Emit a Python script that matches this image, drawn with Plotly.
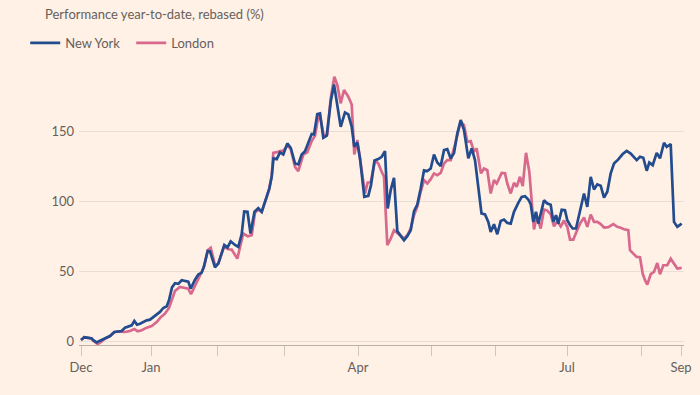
import plotly.graph_objects as go

# time index (trading-session position, Dec start = 0)
ny_t = [0, 3.3, 7.3, 10.7, 12, 15.7, 19, 24, 29, 33.3, 37.3, 40.7, 44, 47.3, 50.7, 53.3, 56, 59, 62.3, 65.7,
        69, 72.3, 75.7, 79, 82.3, 85.7, 88, 91, 94, 97.3, 100.7, 104, 107.3, 109.7, 114, 117.3, 120.7, 123, 126.7, 129,
        134, 137.3, 143.3, 146.5, 149.7, 154, 157.3, 160.7, 163.2, 166.5, 169.5, 173.5, 177.3, 180.7, 185.7, 188.3, 190.7, 192.5, 195.7, 199,
        202.3, 206.3, 209.7, 214, 217.3, 220.7, 224, 227.3, 230.7, 233, 236.3, 239, 242.3, 245.7, 249.7, 253, 256.3, 259.7, 264, 267.3,
        270.7, 273.3, 276.3, 279, 283.3, 287.3, 290, 293.5, 297.3, 300.7, 304, 306.7, 309.7, 313, 316.3, 319.7, 323, 326.3, 329.7, 333,
        336.3, 339.7, 343, 346.3, 349.7, 353, 356.3, 359.7, 363, 366.3, 369.7, 373, 376.3, 379.7, 383, 387.3, 390.7, 394, 397, 400.5,
        404, 407.3, 409.7, 413, 416.3, 419.7, 423, 426.3, 429.7, 433, 437.3, 440.7, 444, 447.3, 449.7, 452.3, 455, 457.3, 460.7, 463,
        466.3, 469.7, 472.3, 475, 477.3, 480.7, 484, 486.3, 489, 491.7, 495, 499, 503, 506.3, 509.7, 513, 516.3, 519.7, 523, 526.3,
        529.7, 533, 537.3, 541.7, 545.7, 549.7, 553, 555.7, 559, 562.3, 565.7, 568.3, 571.7, 575.7, 579, 583, 585.7, 589.7, 593, 596.3,
        600.7]
ny_val = [1, 2.9, 2.5, 2, 1, -0.7, 0.5, 2.1, 3.8, 6.7, 7.1, 7.4, 9.8, 10.7, 11.4, 14.5, 11.9, 12.6, 13.8, 15,
          15.5, 17.4, 19, 21, 23.8, 25, 29.3, 38.5, 41.5, 41, 43.6, 43, 42.6, 37.6, 44, 47.6, 49, 53.6, 64.5, 64.2,
          52.8, 55.5, 68.7, 67, 71.4, 68.8, 67.4, 76.5, 92.6, 92.4, 76.9, 92.5, 95, 92.4, 103, 109, 117.4, 130.5, 130, 134.8,
          133.3, 141.2, 138.1, 126.9, 126.2, 133.3, 135.7, 142.4, 147.9, 147.6, 162.1, 162.6, 145.2, 146.7, 170.9, 183.3, 168.6, 153.1, 163.3, 161.9,
          153.1, 138.8, 141.9, 130.5, 103.1, 103.8, 111.4, 129, 130, 131.7, 135.7, 94.8, 107.9, 116.7, 78.6, 75.7, 72.1, 75, 79.3, 92.9,
          97.6, 109, 121.9, 121.4, 123.3, 133.3, 127.6, 125, 136.4, 137.1, 130.5, 134.3, 148.3, 157.9, 150.7, 130.5, 137.6, 129.3, 112, 91.2,
          90.5, 85.2, 78.1, 83.6, 76.4, 85.9, 86.9, 84.5, 84, 92.4, 98.8, 103.1, 103.6, 101.2, 97.9, 85.2, 92.4, 84, 93.8, 100.7,
          98.3, 97.5, 85.2, 90, 84, 93.8, 93.5, 86.4, 83, 80.5, 80.5, 93, 105.5, 95.9, 117.4, 108.4, 112, 111, 102.6, 106.7,
          119.8, 126.9, 129.8, 133.6, 135.9, 134, 131.7, 129.3, 131.7, 131, 121.7, 127.6, 125.7, 134.5, 130.5, 141.7, 138.8, 140.7, 85.2, 81.7,
          84]

ldn_t = [0, 3.3, 7.3, 10.7, 12, 16.7, 20.7, 24, 29, 33.3, 37.3, 40.7, 44, 49, 53.3, 56.7, 60.7, 65.7, 70.7, 75.7,
         80, 84, 88, 91.3, 94, 99, 104, 107.3, 110, 114, 119, 123, 126.7, 129.7, 134, 137.3, 143, 147.3, 150.7, 156.3,
         162.3, 166.7, 170.7, 174, 177.3, 180.7, 185.7, 188.3, 190.7, 192.3, 197.3, 199, 202.3, 206.3, 209.7, 214, 217.3, 222.3, 226.3, 230.7,
         234, 237.3, 239, 243, 246.3, 249.7, 253.3, 256.3, 259.7, 263, 267.3, 270.7, 273.3, 276.3, 279, 284, 286.7, 289.7, 294, 297.3,
         300.7, 303, 306.3, 309.7, 313, 316.3, 319.7, 323, 326.3, 329.7, 333, 336.3, 339.7, 343, 346.3, 349.7, 353, 356.3, 359.7, 363,
         366.3, 369.7, 373, 376.3, 379.7, 383, 386.3, 389.7, 393, 395.7, 400, 403, 406.3, 409.7, 413, 415.7, 420.7, 424, 426.3, 429.7,
         433, 435.7, 439, 441.7, 445, 448.3, 450.7, 453, 455.7, 459.7, 463, 466.3, 469.7, 473, 476.3, 479.7, 483, 486.3, 489, 492.3,
         495.7, 499, 503, 506.3, 509.7, 513, 516.3, 519.7, 523, 527.3, 532.3, 536.3, 539.7, 543, 547.3, 549, 552.3, 555.7, 559, 561.7,
         564, 566.3, 569.7, 573, 576.3, 579, 582.3, 586.3, 589.7, 593, 596.3, 600.7]
ldn_val = [1, 2.9, 2.5, 2, 0.5, -2, 0, 2, 3.8, 6.5, 7, 7, 6.7, 7.4, 8.8, 7.1, 7.9, 9.8, 11, 13.8,
           17.4, 19.8, 23.8, 30.5, 36, 38.8, 38.3, 37.5, 33.6, 39.5, 47.1, 53, 65, 66.7, 54.5, 55.5, 67.4, 65.7, 65.5, 59,
           76.9, 75, 75.7, 91.8, 94, 92.4, 103, 109, 118, 134.5, 135.2, 135.7, 136, 139.5, 137.5, 124.5, 121.4, 133.3, 134.8, 142.9,
           146.7, 160.2, 161, 146, 147.6, 173.3, 188.8, 182.9, 169.8, 179.3, 174.5, 169, 133.3, 143.6, 130.5, 105.5, 113.3, 113.5, 129, 126.9,
           121, 117.4, 68.6, 73.3, 79.3, 77.5, 75.2, 73.3, 75.7, 80.5, 90, 96.2, 106.7, 115, 112.6, 115.7, 119.8, 118.6, 120.2, 126.9,
           129.3, 129.3, 137.6, 147.1, 156.7, 154.3, 142.4, 142.9, 135.5, 137.6, 119.8, 123.3, 122.1, 105.5, 115, 112.6, 120.2, 120, 112.6, 105.5,
           113.1, 110.2, 117.4, 110.7, 134.5, 121, 102.4, 79.8, 89.3, 80.5, 94, 93.3, 90.5, 82.1, 85.7, 82, 86.2, 81.7, 72.5, 72.5,
           78.5, 84, 88.3, 81.7, 90.5, 85.2, 85.2, 83.6, 81.2, 81.5, 83.6, 81.7, 81, 80, 79.3, 65, 62.6, 60.2, 60, 48.3,
           43.6, 40.5, 47.9, 49.5, 55.9, 47.9, 54.3, 54.3, 59, 55.5, 51.9, 52.4]

tick_pos = [0, 70, 136, 203, 277, 350, 414, 486, 560, 600]
tick_text = ["Dec", "Jan", "", "", "Apr", "", "", "Jul", "", "Sep"]
y_ticks = [0, 50, 100, 150]

BG = "#FFF1E5"
GREY = "#66605C"
FONT = "Lato"

fig = go.Figure()
fig.add_trace(go.Scatter(x=ldn_t, y=ldn_val, mode="lines", name="London",
                         line=dict(color="#D8698D", width=2.7)))
fig.add_trace(go.Scatter(x=ny_t, y=ny_val, mode="lines", name="New York",
                         line=dict(color="#234C8E", width=2.7)))

fig.update_layout(
    width=700, height=395,
    paper_bgcolor=BG, plot_bgcolor=BG,
    margin=dict(l=79, r=16, t=68, b=50, autoexpand=False),
    font=dict(family=FONT, size=13, color=GREY),
    title=dict(text="Performance year-to-date, rebased (%)", x=45 / 700, xanchor="left",
               y=1 - 14 / 395, yanchor="middle", font=dict(size=13, color=GREY)),
    showlegend=True,
    legend=dict(orientation="h", traceorder="reversed", xref="container", yref="container",
                x=0.036, xanchor="left", y=1 - 43 / 395, yanchor="middle",
                bgcolor="rgba(0,0,0,0)", font=dict(size=13, color=GREY), entrywidth=61,
                entrywidthmode="pixels"),
    xaxis=dict(range=[-2, 603], tickmode="array", tickvals=tick_pos, ticktext=tick_text,
               showgrid=False, zeroline=False, showline=True, linecolor="#B8AFA7", linewidth=1,
               ticks="outside", ticklen=10, tickcolor="#CFC6BD", tickwidth=1,
               tickfont=dict(size=13, color=GREY), automargin=False),
    yaxis=dict(range=[-2.6, 195], tickmode="array", tickvals=y_ticks,
               showgrid=True, gridcolor="#E9DED3", gridwidth=1, zeroline=False, showline=False,
               ticks="", tickfont=dict(size=13, color=GREY), ticklabelstandoff=4, automargin=False),
)

fig.write_html("out.html", config={"displayModeBar": False},
               post_script="document.body.style.margin='0';")
